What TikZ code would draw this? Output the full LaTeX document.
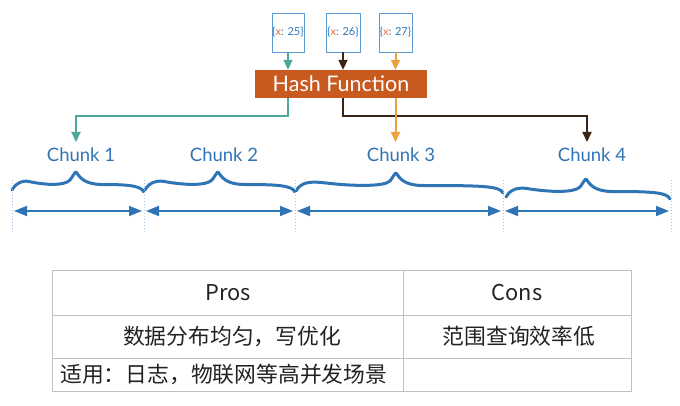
\documentclass[tikz,border=0pt]{standalone}
\usepackage{fontspec}
\setmainfont{Lato}
\newfontfamily\cjk{Noto Sans CJK SC}
\usetikzlibrary{arrows.meta,calc}
\definecolor{tealc}{HTML}{4BA89B}
\definecolor{brownc}{HTML}{3A2416}
\definecolor{orangec}{HTML}{EBA23A}
\definecolor{hashc}{HTML}{C95A1F}
\definecolor{bluec}{HTML}{2F75B5}
\definecolor{lightbluec}{HTML}{A9CBEA}
\definecolor{keyborder}{HTML}{5B9BD5}
\definecolor{xorange}{HTML}{E0703A}
\definecolor{gridc}{HTML}{BFBFBF}
\definecolor{textc}{HTML}{222222}
\newcommand\keytext[1]{\textcolor{bluec}{\{}\textcolor{xorange}{x}\textcolor{bluec}{: #1\}}}
\newcommand\chunkbrace[4]{%
  \draw[bracestyle] (#1,-#4)
    .. controls ({#1+5},{-#4+9}) and ({#1+14},{-#4+10}) .. ({#1+0.3*(#2-#1)},{-#4+8})
    .. controls ({#1+0.55*(#2-#1)},{-#4+5}) and ({#2-12},{-#4+4}) .. ({#2-6},{-#4+10})
    .. controls ({#2-3},{-#4+14}) and ({#2-1},{-#4+18}) .. (#2,{-#4+18})
    .. controls ({#2+4},{-#4+12}) and ({#2+9},{-#4+6}) .. ({#2+25},{-#4+5.5})
    .. controls ({#3-20},{-#4+5.5}) and ({#3-3},{-#4+5}) .. (#3,{-#4-2});}
\begin{document}
\begin{tikzpicture}[x=1pt,y=1pt,
  keybox/.style={draw=keyborder, line width=0.8pt, minimum height=39pt, inner sep=0pt,
    font=\fontsize{11}{13}\selectfont},
  conn/.style={line width=2pt, -{Triangle[width=9pt,length=10pt]}},
  chunklabel/.style={text=bluec, font=\fontsize{18.5}{21}\selectfont, inner sep=0pt},
  bracestyle/.style={draw=bluec, line width=3pt, line cap=round, line join=round},
  dbl/.style={draw=bluec, line width=1.8pt, {Triangle[width=10pt,length=13pt]}-{Triangle[width=10pt,length=13pt]}},
  vline/.style={draw=lightbluec, line width=1pt, dash pattern=on 1.5pt off 1.5pt},
  grid/.style={draw=gridc, line width=1pt},
  celltext/.style={text=textc, font=\cjk\fontsize{21.8}{25}\selectfont, inner sep=0pt}
]
\useasboundingbox (0,0) rectangle (680,-406);

% keys
\node[keybox, minimum width=32pt] (k1) at (288,-32.5) {\keytext{25}};
\node[keybox, minimum width=34pt] (k2) at (343,-32.5) {\keytext{26}};
\node[keybox, minimum width=33pt] (k3) at (395.5,-32.5) {\keytext{27}};

% hash function
\node[fill=hashc, minimum width=172pt, minimum height=28pt, inner sep=0pt, text=white,
  font=\fontsize{21.5}{24}\selectfont] (hash) at (341,-84) {Hash Function};

\draw[conn, tealc] (k1.south) -- (k1.south |- hash.north);
\draw[conn, brownc] (k2.south) -- (k2.south |- hash.north);
\draw[conn, orangec] (k3.south) -- (k3.south |- hash.north);

% targets
\coordinate (t1) at (76,-142);
\coordinate (t3) at (395.5,-142);
\coordinate (t4) at (587,-142);
\draw[conn, tealc] (k1.south |- hash.south) -- ++(0,-18) -| (t1);
\draw[conn, brownc] (k2.south |- hash.south) -- ++(0,-18) -| (t4);
\draw[conn, orangec] (k3.south |- hash.south) -- (t3);

% chunk labels
\node[chunklabel] (c1) at (81,-155) {Chunk 1};
\node[chunklabel] (c2) at (224,-155) {Chunk 2};
\node[chunklabel] (c3) at (401,-155) {Chunk 3};
\node[chunklabel] (c4) at (592,-155) {Chunk 4};

% braces
\chunkbrace{12}{76}{144}{190}
\chunkbrace{145}{218}{295}{190}
\chunkbrace{296}{396}{503}{191}
\chunkbrace{506}{586}{670}{197}

% boundaries
\foreach \i/\x in {0/12,1/144,2/295,3/503,4/671}{
  \coordinate (b\i) at (\x,-211);
  \draw[vline] (\x,-180) -- (\x,-232);
}
\draw[dbl] ($(b0)+(2,0)$) -- ($(b1)-(2,0)$);
\draw[dbl] ($(b1)+(2,0)$) -- ($(b2)-(2,0)$);
\draw[dbl] ($(b2)+(2,0)$) -- ($(b3)-(2,0)$);
\draw[dbl] ($(b3)+(2,0)$) -- ($(b4)-(2,0)$);

% table
\draw[grid] (52,-270) rectangle (631,-391);
\draw[grid] (52,-315) -- (631,-315);
\draw[grid] (52,-358) -- (631,-358);
\draw[grid] (403,-270) -- (403,-391);
\node[celltext] (pros) at (228,-292.5) {Pros};
\node[celltext] (cons) at (517,-292.5) {Cons};
\node[celltext] (r2a) at (232,-336.5) {数据分布均匀，写优化};
\node[celltext] (r2b) at (519,-336.5) {范围查询效率低};
\node[celltext, anchor=west] (r3a) at (60,-374.5) {适用：日志，物联网等高并发场景};
\end{tikzpicture}
\end{document}
